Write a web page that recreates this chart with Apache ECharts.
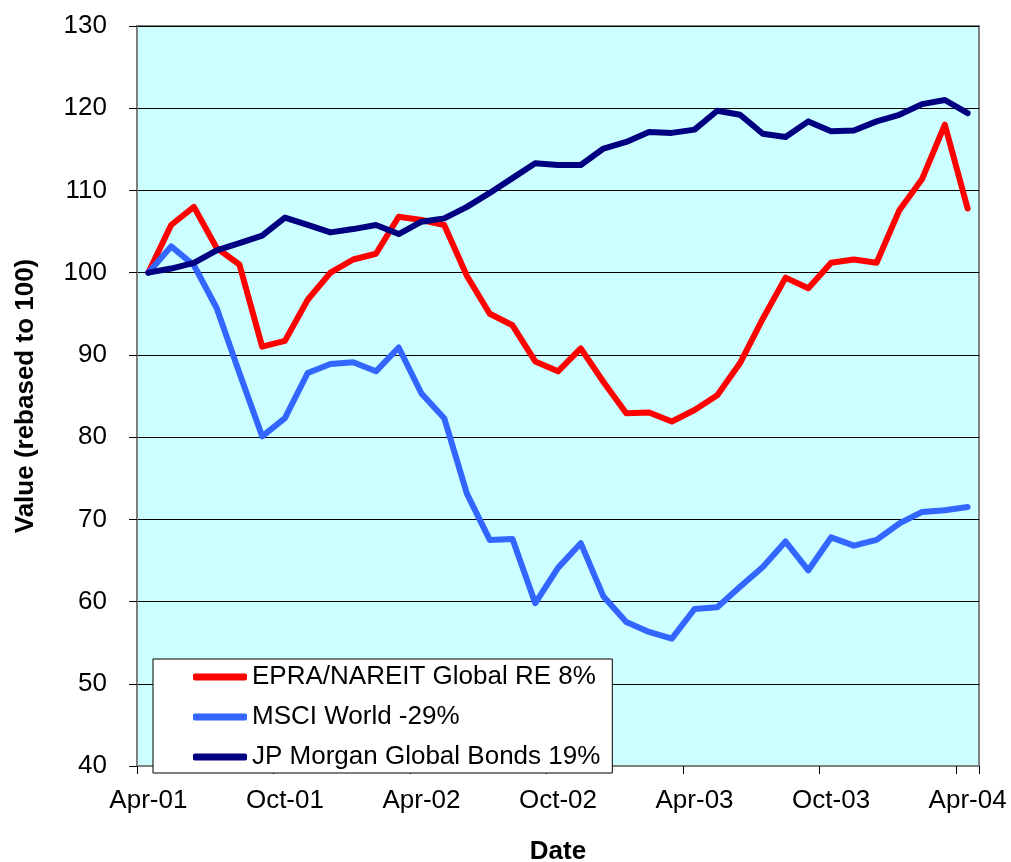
<!DOCTYPE html>
<html>
<head>
<meta charset="utf-8">
<script src="https://cdn.jsdelivr.net/npm/echarts@6/dist/echarts.min.js"></script>
<style>
  html, body { margin: 0; padding: 0; background: #fff; }
  #chart { width: 1011px; height: 862px; }
</style>
</head>
<body>
<div id="chart"></div>
<script>
// monthly categories, Apr-01 .. Apr-04
var months = ['Apr-01', 'May-01', 'Jun-01', 'Jul-01', 'Aug-01', 'Sep-01', 'Oct-01', 'Nov-01', 'Dec-01',
  'Jan-02', 'Feb-02', 'Mar-02', 'Apr-02', 'May-02', 'Jun-02', 'Jul-02', 'Aug-02', 'Sep-02', 'Oct-02', 'Nov-02', 'Dec-02',
  'Jan-03', 'Feb-03', 'Mar-03', 'Apr-03', 'May-03', 'Jun-03', 'Jul-03', 'Aug-03', 'Sep-03', 'Oct-03', 'Nov-03', 'Dec-03',
  'Jan-04', 'Feb-04', 'Mar-04', 'Apr-04']

var seriesNames = ['EPRA/NAREIT Global RE 8%', 'MSCI World -29%', 'JP Morgan Global Bonds 19%']

var epraValues = [100, 105.8, 108.0, 103.0, 101.0, 91.0, 91.7, 96.7, 100.0, 101.6, 102.3, 106.8, 106.4,
  105.8, 99.6, 95.0, 93.6, 89.2, 88.0, 90.8, 86.7, 82.9, 83.0, 81.9, 83.3, 85.1, 89.0, 94.4, 99.4,
  98.1, 101.2, 101.6, 101.2, 107.6, 111.4, 118.0, 107.8]

var msciValues = [100, 103.2, 100.9, 95.7, 87.8, 80.1, 82.3, 87.8, 88.9, 89.1, 88.0, 90.9, 85.3,
  82.3, 73.1, 67.5, 67.6, 59.8, 64.1, 67.1, 60.6, 57.5, 56.3, 55.5, 59.1, 59.3, 61.8, 64.2, 67.3,
  63.8, 67.8, 66.8, 67.5, 69.5, 70.9, 71.1, 71.5]

var bondValues = [100, 100.5, 101.2, 102.7, 103.6, 104.5, 106.7, 105.8, 104.9, 105.3, 105.8, 104.7, 106.2,
  106.6, 108.0, 109.7, 111.5, 113.3, 113.1, 113.1, 115.1, 115.9, 117.1, 117.0, 117.4, 119.7, 119.2,
  116.9, 116.5, 118.4, 117.2, 117.3, 118.4, 119.2, 120.5, 121.0, 119.4]

var colors = ['#FF0000', '#3366FF', '#000080']
var font = '"Liberation Sans", Arial, sans-serif'

function lineSeries(name, values, color) {
  return {
    name: name,
    type: 'line',
    data: values,
    showSymbol: false,
    symbol: 'none',
    lineStyle: { color: color, width: 6, cap: 'round', join: 'round' },
    itemStyle: { color: color }
  }
}

var chart = echarts.init(document.getElementById('chart'))

chart.setOption({
  animation: false,
  textStyle: { fontFamily: font, color: '#000' },
  grid: {
    left: 137,
    right: 32,
    top: 26,
    bottom: 96,
    outerBoundsMode: 'none',
    show: true,
    backgroundColor: '#CCFFFF',
    borderColor: '#808080',
    borderWidth: 2
  },
  legend: {
    orient: 'vertical',
    left: 153,
    top: 659,
    padding: [3, 12, 1, 40],
    itemGap: 10,
    itemWidth: 54,
    itemHeight: 7,
    icon: 'roundRect',
    backgroundColor: '#fff',
    borderColor: '#000',
    borderWidth: 1,
    textStyle: { fontFamily: font, fontSize: 26, color: '#000', lineHeight: 30 },
    data: seriesNames
  },
  xAxis: {
    type: 'category',
    data: months,
    boundaryGap: true,
    name: 'Date',
    nameLocation: 'middle',
    nameGap: 73,
    nameTextStyle: { fontFamily: font, fontSize: 26, fontWeight: 'bold', color: '#000' },
    axisLine: { show: true, lineStyle: { color: '#808080', width: 2 } },
    axisTick: { show: true, interval: 5, length: 8, lineStyle: { color: '#000' } },
    axisLabel: { interval: 5, fontFamily: font, fontSize: 26, color: '#000', margin: 22 },
    splitLine: { show: false }
  },
  yAxis: {
    type: 'value',
    min: 40,
    max: 130,
    interval: 10,
    name: 'Value (rebased to 100)',
    nameLocation: 'middle',
    nameGap: 98,
    nameTextStyle: { fontFamily: font, fontSize: 26, fontWeight: 'bold', color: '#000' },
    axisLine: { show: true, lineStyle: { color: '#808080', width: 2 } },
    axisTick: { show: true, length: 8, lineStyle: { color: '#000' } },
    axisLabel: { fontFamily: font, fontSize: 26, color: '#000', margin: 30 },
    splitLine: { show: true, lineStyle: { color: '#000', width: 1 } }
  },
  series: [
    lineSeries(seriesNames[0], epraValues, colors[0]),
    lineSeries(seriesNames[1], msciValues, colors[1]),
    lineSeries(seriesNames[2], bondValues, colors[2])
  ]
})
</script>
</body>
</html>
